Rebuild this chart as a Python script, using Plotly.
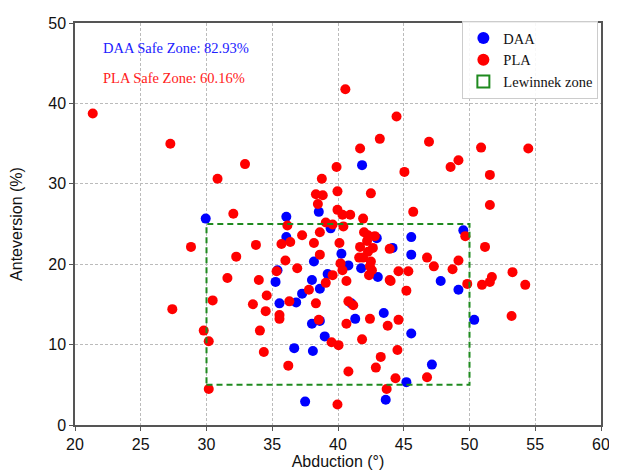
import plotly.graph_objects as go

# ---- data ----
daa_abd = [29.94, 36.07, 38.54, 41.83, 39.44, 36.07, 38.17, 35.40, 35.25, 38.02,
           39.21, 38.62, 37.27, 35.55, 36.82, 38.02, 38.62, 38.99, 36.67, 38.09,
           37.50, 40.26, 41.76, 40.79, 41.31, 42.95, 44.15, 45.57, 45.57, 43.03,
           47.81, 49.16, 49.53, 43.48, 45.57, 50.36, 47.14, 45.20, 43.63, 41.01]
daa_ant = [25.67, 25.91, 26.51, 32.32, 24.46, 23.37, 20.34, 19.25, 17.80, 18.04,
           18.77, 16.95, 16.34, 15.13, 15.25, 12.59, 12.95, 11.02, 9.56, 9.20,
           2.91, 21.31, 19.49, 19.85, 13.20, 23.24, 22.03, 23.37, 21.19, 18.40,
           17.92, 16.83, 24.21, 13.92, 11.38, 13.08, 7.51, 5.33, 3.15, 15.13]

pla_abd = [21.35, 27.25, 30.84, 32.93, 40.56, 44.45, 43.18, 41.68, 39.89, 46.92,
           45.05, 48.56, 49.16, 50.88, 51.55, 54.47, 39.96, 42.50, 38.77, 38.32,
           38.84, 38.47, 39.96, 40.34, 40.93, 41.91, 45.72, 51.55, 32.04, 36.15,
           39.07, 37.27, 38.62, 28.82, 33.76, 35.70, 36.37, 38.17, 32.26, 36.00,
           38.62, 36.90, 35.33, 31.59, 33.98, 39.59, 39.07, 37.79, 34.58, 30.47,
           33.53, 36.30, 38.32, 34.50, 35.55, 35.55, 27.40, 38.54, 34.06, 29.79,
           30.17, 39.51, 40.04, 34.36, 36.22, 30.17, 39.96, 40.11, 40.41, 41.98,
           42.28, 42.80, 42.21, 41.68, 41.91, 42.28, 42.65, 42.50, 42.43, 42.58,
           42.36, 40.19, 41.61, 40.34, 40.64, 41.16, 40.79, 40.64, 42.43, 41.83,
           43.25, 42.88, 40.79, 44.52, 46.77, 44.37, 43.70, 43.93, 51.18, 46.77,
           47.29, 49.16, 48.71, 45.35, 44.60, 44.00, 49.83, 50.95, 51.55, 51.70,
           53.27, 54.24, 45.20, 53.20, 44.60, 43.78, 49.68, 43.93, 39.59]
pla_ant = [38.74, 34.99, 30.63, 32.45, 41.77, 38.38, 35.59, 34.38, 32.08, 35.23,
           31.48, 32.08, 32.93, 34.50, 31.11, 34.38, 29.06, 28.81, 30.63, 28.69,
           28.57, 27.48, 26.76, 26.15, 26.15, 25.67, 26.51, 27.36, 26.27, 24.82,
           25.18, 23.61, 23.97, 22.15, 22.40, 22.52, 22.76, 22.64, 20.94, 20.46,
           21.19, 19.49, 19.13, 18.28, 18.04, 18.64, 17.68, 16.83, 16.10, 15.50,
           15.01, 15.38, 15.13, 14.16, 13.68, 13.20, 14.41, 13.08, 11.74, 11.74,
           10.41, 10.29, 9.93, 9.08, 7.38, 4.48, 2.54, 22.64, 24.70, 23.97,
           23.61, 23.49, 22.88, 22.15, 20.82, 21.55, 22.03, 20.34, 19.73, 19.25,
           18.64, 20.10, 20.82, 19.25, 17.92, 14.89, 15.38, 12.59, 13.20, 10.65,
           8.47, 7.14, 6.66, 9.32, 5.93, 5.81, 4.48, 21.91, 22.15, 20.82,
           19.73, 20.46, 19.37, 19.13, 19.13, 17.92, 17.55, 17.43, 17.80, 18.40,
           19.01, 17.43, 16.71, 13.56, 13.08, 12.35, 23.49, 18.04, 24.94]

zone_abd = [30, 50]
zone_ant = [5, 25]

labels = {"daa": "DAA", "pla": "PLA", "zone": "Lewinnek zone"}
notes = ["DAA Safe Zone: 82.93%", "PLA Safe Zone: 60.16%"]

serif = "Liberation Serif, Times New Roman, serif"
sans = "Liberation Sans, Arial, sans-serif"

fig = go.Figure()
fig.add_trace(go.Scatter(x=daa_abd, y=daa_ant, mode="markers", name=labels["daa"],
                         marker=dict(color="#0000ff", size=10, line=dict(width=0))))
fig.add_trace(go.Scatter(x=pla_abd, y=pla_ant, mode="markers", name=labels["pla"],
                         marker=dict(color="#ff0000", size=10, line=dict(width=0))))
fig.add_shape(type="rect", xref="x", yref="y",
              x0=zone_abd[0], x1=zone_abd[1], y0=zone_ant[0], y1=zone_ant[1],
              line=dict(color="#1f8a1f", width=2, dash="6px,4px"),
              fillcolor="rgba(0,0,0,0)", showlegend=True, name=labels["zone"])

fig.add_annotation(xref="paper", yref="paper", x=0.05, y=0.939, text=notes[0],
                   showarrow=False, xanchor="left", yanchor="middle",
                   font=dict(family=serif, size=14.5, color="#2020ff"))
fig.add_annotation(xref="paper", yref="paper", x=0.05, y=0.862, text=notes[1],
                   showarrow=False, xanchor="left", yanchor="middle",
                   font=dict(family=serif, size=14.5, color="#ff2020"))

axis_common = dict(showline=True, mirror=True, linecolor="#555555", linewidth=1.5,
                   ticks="outside", ticklen=4, tickcolor="#555555",
                   showgrid=True, gridcolor="#bbbbbb", griddash="3px,2px", gridwidth=1,
                   zeroline=False, tickfont=dict(family=sans, size=16, color="#111111"))

fig.update_xaxes(range=[20, 60], dtick=5, tick0=20,
                 title=dict(text="Abduction (°)", font=dict(family=sans, size=16, color="#111111"),
                            standoff=4),
                 **axis_common)
fig.update_yaxes(range=[0, 50], dtick=10, tick0=0,
                 title=dict(text="Anteversion (%)", font=dict(family=sans, size=16, color="#111111"),
                            standoff=22),
                 **axis_common)

# the page body adds an 8px offset; size the figure so the plot area lands where the reference has it
fig.update_layout(
    width=609, height=467,
    margin=dict(l=67, r=7, t=10, b=44),
    plot_bgcolor="white", paper_bgcolor="white",
    legend=dict(x=0.995, y=1.005, xanchor="right", yanchor="top",
                bgcolor="rgba(255,255,255,0.9)", bordercolor="#cccccc", borderwidth=1,
                font=dict(family=serif, size=14.5, color="#111111"),
                itemsizing="constant", tracegroupgap=0),
    showlegend=True,
)

fig.write_html("out.html")
